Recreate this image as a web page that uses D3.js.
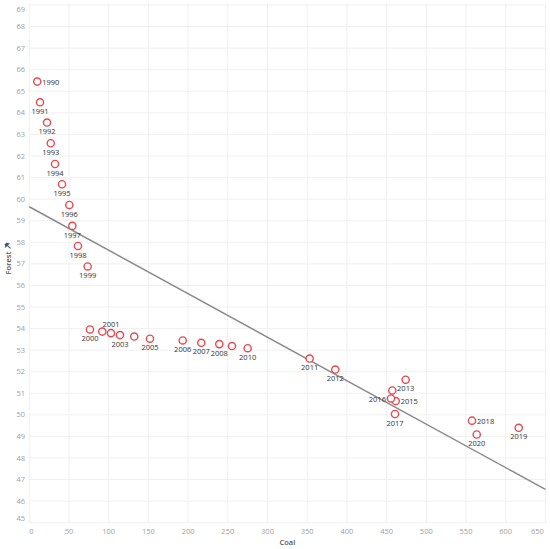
<!DOCTYPE html>
<html lang="en">
<head>
<meta charset="UTF-8">
<title>Coal vs Forest</title>
<style>
  body { margin: 0; background: #fff; }
  text { font-family: "Open Sans", Lato, sans-serif; }
</style>
</head>
<body>
<div class="chart"></div>
<script src="https://d3js.org/d3.v7.min.js"></script>
<script>
    var w = 550, h = 549;

    var years = [1990, 1991, 1992, 1993, 1994, 1995, 1996, 1997, 1998, 1999,
                 2000, 2001, 2002, 2003, 2004, 2005, 2006, 2007, 2008, 2009,
                 2010, 2011, 2012, 2013, 2014, 2015, 2016, 2017, 2018, 2019, 2020];
    var coal = [10, 13.5, 22.3, 27, 32.4, 41.2, 50.4, 54.2, 61.3, 73.5,
                76.4, 102.9, 91.9, 114.2, 132.2, 152, 193.2, 216.6, 239.3, 255.3,
                275, 353.1, 385.4, 474, 457.2, 461.5, 455.5, 460.6, 557.6, 616.4, 563.5];
    var forest = [65.45, 64.49, 63.55, 62.59, 61.63, 60.69, 59.73, 58.76, 57.83, 56.88,
                  53.96, 53.79, 53.86, 53.70, 53.63, 53.53, 53.45, 53.34, 53.28, 53.19,
                  53.09, 52.61, 52.10, 51.63, 51.13, 50.64, 50.76, 50.04, 49.73, 49.40, 49.09];
    var xTicks = d3.range(0, 651, 50);
    var yTicks = d3.range(45, 70, 1);

    // where each year label sits (b below, r right, l left, a above, "" hidden)
    var labelPos = {1990: "r", 2001: "a", 2002: "", 2004: "", 2009: "", 2014: "",
                    2015: "r", 2016: "l", 2018: "r"};

    var svg = d3.select(".chart").append("svg")
        .attr("width", w)
        .attr("height", h);

    var x = d3.scaleLinear().domain([0, 650]).range([29.3, 545.4]);
    var y = d3.scaleLinear().domain([45, 69]).range([522.7, 5]);

    var pts = years.map(function(yr, i) {
        return {year: yr, coal: coal[i], forest: forest[i]};
    });

    // grid
    svg.append("g").selectAll("line").data(xTicks).enter().append("line")
        .attr("x1", d => x(d)).attr("x2", d => x(d))
        .attr("y1", y.range()[1] - 2).attr("y2", y.range()[0])
        .attr("stroke", "#f0f0f0").attr("stroke-width", 1);
    svg.append("g").selectAll("line").data(yTicks).enter().append("line")
        .attr("x1", x.range()[0]).attr("x2", x.range()[1])
        .attr("y1", d => y(d)).attr("y2", d => y(d))
        .attr("stroke", "#f0f0f0").attr("stroke-width", 1);

    // tick labels
    svg.append("g").selectAll("text").data(yTicks).enter().append("text")
        .attr("x", 25)
        .attr("y", d => Math.min(518, Math.max(9, y(d))))
        .attr("dy", "0.35em")
        .attr("text-anchor", "end")
        .attr("font-size", 7.5)
        .attr("fill", "#a0a0a0")
        .text(d => d);
    svg.append("g").selectAll("text").data(xTicks).enter().append("text")
        .attr("x", function(d, i) {
            if (i == 0) return x(d);
            if (i == xTicks.length - 1) return x(d) - 1.5;
            return x(d);
        })
        .attr("y", 531)
        .attr("dy", "0.35em")
        .attr("text-anchor", function(d, i) {
            if (i == 0) return "start";
            if (i == xTicks.length - 1) return "end";
            return "middle";
        })
        .attr("font-size", 7.5)
        .attr("fill", "#a0a0a0")
        .text(d => d);

    // axis titles
    svg.append("text")
        .attr("x", (x.range()[0] + x.range()[1]) / 2)
        .attr("y", 545)
        .attr("text-anchor", "middle")
        .attr("font-size", 7.5)
        .attr("font-weight", "600")
        .attr("fill", "#555")
        .text("Coal");
    var yt = svg.append("g").attr("transform", "translate(11,263) rotate(-90)");
    yt.append("text")
        .attr("text-anchor", "middle")
        .attr("font-size", 7.5)
        .attr("font-weight", "600")
        .attr("fill", "#555")
        .text("Forest");
    // little sort icon
    yt.append("path")
        .attr("transform", "translate(17,-3) rotate(45)")
        .attr("d", "M-3,-1 L3,-1 M0,-1 L0,3.5 M-1.8,-1 L-1,-3 L1,-3 L1.8,-1")
        .attr("stroke", "#3d5a80").attr("stroke-width", 1.1).attr("fill", "#3d5a80");

    // trend line from least squares
    var mx = d3.mean(coal), my = d3.mean(forest);
    var sxy = d3.sum(pts, d => (d.coal - mx) * (d.forest - my));
    var sxx = d3.sum(pts, d => (d.coal - mx) * (d.coal - mx));
    var slope = sxy / sxx, icpt = my - slope * mx;
    svg.append("line")
        .attr("x1", x(0)).attr("y1", y(icpt))
        .attr("x2", x(650)).attr("y2", y(icpt + slope * 650))
        .attr("stroke", "#8a8a8a")
        .attr("stroke-width", 1.5);

    // points
    svg.append("g").selectAll("circle").data(pts).enter().append("circle")
        .attr("cx", d => x(d.coal))
        .attr("cy", d => y(d.forest))
        .attr("r", 3.6)
        .attr("fill", "#fff")
        .attr("stroke", "#e8474e")
        .attr("stroke-width", 1.4);

    // labels
    svg.append("g").selectAll("text").data(pts).enter().append("text")
        .each(function(d) {
            var p = labelPos[d.year] === undefined ? "b" : labelPos[d.year];
            var t = d3.select(this);
            var cx = x(d.coal), cy = y(d.forest);
            if (p == "") { t.remove(); return; }
            if (p == "b") t.attr("x", cx).attr("y", cy + 9).attr("text-anchor", "middle");
            if (p == "a") t.attr("x", cx).attr("y", cy - 9).attr("text-anchor", "middle");
            if (p == "r") t.attr("x", cx + 5).attr("y", cy + 0.5).attr("text-anchor", "start");
            if (p == "l") t.attr("x", cx - 5).attr("y", cy + 0.5).attr("text-anchor", "end");
            t.attr("dy", "0.35em").text(d.year);
        })
        .attr("font-size", 7.5)
        .attr("fill", "#333");
</script>
</body>
</html>
